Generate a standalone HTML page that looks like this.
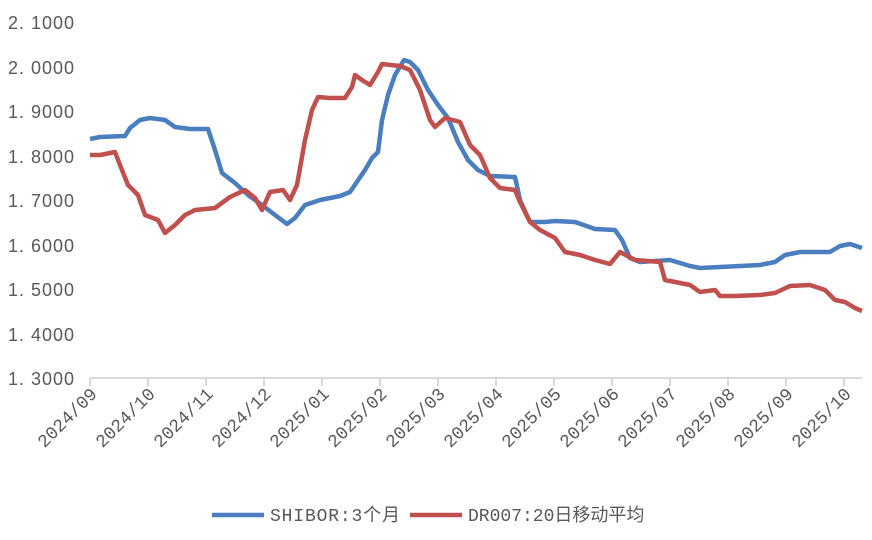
<!DOCTYPE html>
<html><head><meta charset="utf-8"><style>
html,body{margin:0;padding:0;background:#fff;}
svg text{font-family:"Liberation Mono","Noto Sans CJK SC",monospace;fill:#595959;}
svg .y text{font-family:"Liberation Sans",sans-serif;}
</style></head><body>
<svg width="872" height="535" viewBox="0 0 872 535" xmlns="http://www.w3.org/2000/svg">
<g class="y" font-size="18" text-anchor="start">
<text x="8" y="29" textLength="66">2. 1000</text>
<text x="8" y="74" textLength="66">2. 0000</text>
<text x="8" y="118" textLength="66">1. 9000</text>
<text x="8" y="163" textLength="66">1. 8000</text>
<text x="8" y="207" textLength="66">1. 7000</text>
<text x="8" y="252" textLength="66">1. 6000</text>
<text x="8" y="296" textLength="66">1. 5000</text>
<text x="8" y="341" textLength="66">1. 4000</text>
<text x="8" y="385" textLength="66">1. 3000</text>
</g>
<g stroke="#d9d9d9" stroke-width="2" fill="none">
<line x1="90" y1="378" x2="862" y2="378"/>
<path d="M90 378v8M148 378v8M206 378v8M264 378v8M322 378v8M380 378v8M438 378v8M496 378v8M554 378v8M612 378v8M670 378v8M728 378v8M786 378v8M844 378v8"/>
</g>
<g font-size="18" text-anchor="end">
<text transform="translate(98,395) rotate(-45)">2024/09</text>
<text transform="translate(156,395) rotate(-45)">2024/10</text>
<text transform="translate(214,395) rotate(-45)">2024/11</text>
<text transform="translate(272,395) rotate(-45)">2024/12</text>
<text transform="translate(330,395) rotate(-45)">2025/01</text>
<text transform="translate(388,395) rotate(-45)">2025/02</text>
<text transform="translate(446,395) rotate(-45)">2025/03</text>
<text transform="translate(504,395) rotate(-45)">2025/04</text>
<text transform="translate(562,395) rotate(-45)">2025/05</text>
<text transform="translate(620,395) rotate(-45)">2025/06</text>
<text transform="translate(678,395) rotate(-45)">2025/07</text>
<text transform="translate(736,395) rotate(-45)">2025/08</text>
<text transform="translate(794,395) rotate(-45)">2025/09</text>
<text transform="translate(852,395) rotate(-45)">2025/10</text>
</g>
<polyline fill="none" stroke="#4a7ebf" stroke-width="4.5" stroke-linejoin="round" points="90,139 100,137 125,136 130,128 140,120 150,118 165,120 175,127 190,129 208,129 215,150 222,173 235,183 248,195 262,205 275,215 287,224 295,218 305,205 320,200 340,196 350,192 365,170 372,158 378,152 382,120 388,95 395,75 404,60 410,62 418,70 428,90 438,105 448,118 458,142 468,160 478,170 490,176 515,177 520,200 530,222 545,222 555,221 575,222 595,229 615,230 622,240 630,258 640,262 670,260 690,266 700,268 760,265 775,262 785,255 800,252 830,252 840,246 850,244 862,248"/>
<polyline fill="none" stroke="#c0504d" stroke-width="4.5" stroke-linejoin="round" points="90,155 100,155 115,152 120,165 128,185 138,195 145,215 158,220 165,233 175,225 185,215 195,210 215,208 230,197 245,190 255,198 262,210 270,192 283,190 290,200 297,185 305,140 312,110 318,97 330,98 345,98 352,87 355,75 362,80 370,85 378,72 382,64 400,66 410,70 420,90 430,120 435,127 445,118 460,122 470,145 480,155 490,178 500,188 515,190 520,202 530,222 540,230 555,238 565,252 580,255 595,260 610,264 620,252 635,260 660,262 665,280 675,282 690,285 700,292 715,290 720,296 735,296 760,295 775,293 790,286 810,285 825,290 835,300 845,302 855,308 862,311"/>
<line x1="212" y1="515" x2="264" y2="515" stroke="#4a7ebf" stroke-width="4.5"/>
<text x="270" y="521" font-size="18" textLength="130">SHIBOR:3个月</text>
<line x1="410" y1="515" x2="462" y2="515" stroke="#c0504d" stroke-width="4.5"/>
<text x="468" y="521" font-size="18">DR007:20日移动平均</text>
</svg>
</body></html>
